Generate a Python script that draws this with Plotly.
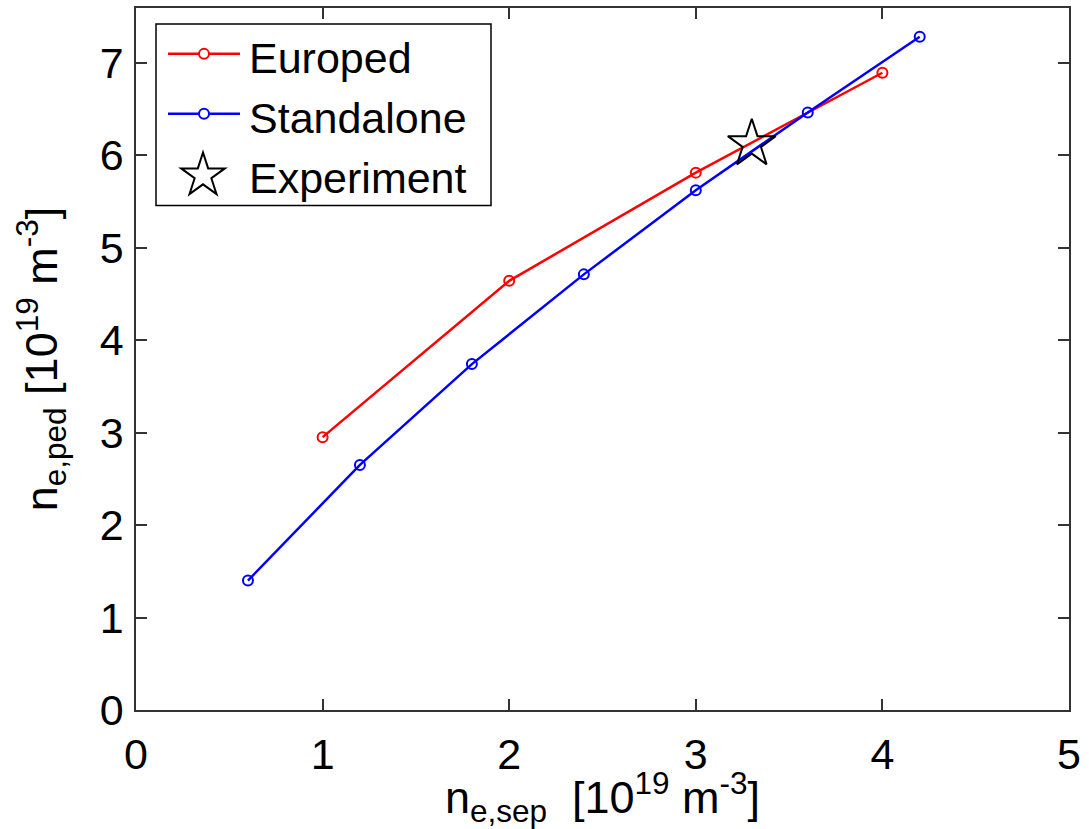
import math
import plotly.graph_objects as go

europed_x = [1, 2, 3, 4]
europed_y = [2.95, 4.64, 5.81, 6.89]
standalone_x = [0.6, 1.2, 1.8, 2.4, 3.0, 3.6, 4.2]
standalone_y = [1.40, 2.65, 3.74, 4.71, 5.62, 6.46, 7.28]
experiment_x = [3.3]
experiment_y = [6.12]
legend_labels = ["Europed", "Standalone", "Experiment"]

FONT = "Liberation Sans, Arial, Helvetica, sans-serif"
FS = 43
RED = "#ff0000"
BLUE = "#0000ff"

W, H = 1089, 829
ML, MR, MT, MB = 136, 20, 6, 119
PW, PH = W - ML - MR, H - MT - MB


def px(xpix):
    return (xpix - ML) / PW


def py(ypix):
    return 1 - (ypix - MT) / PH


fig = go.Figure()
fig.add_trace(go.Scatter(x=europed_x, y=europed_y, mode="lines+markers", name=legend_labels[0],
                         line=dict(color=RED, width=2.5),
                         marker=dict(symbol="circle-open", size=10, color=RED, line=dict(width=2))))
fig.add_trace(go.Scatter(x=standalone_x, y=standalone_y, mode="lines+markers", name=legend_labels[1],
                         line=dict(color=BLUE, width=2.5),
                         marker=dict(symbol="circle-open", size=10, color=BLUE, line=dict(width=2))))
fig.add_trace(go.Scatter(x=experiment_x, y=experiment_y, mode="markers", name=legend_labels[2],
                         marker=dict(symbol="star-open", size=36, color="#000000", line=dict(width=2))))

axis_common = dict(showgrid=False, zeroline=False, showline=True, linecolor="#333333", linewidth=1.5,
                   mirror="ticks", ticks="inside", ticklen=11, tickwidth=1.5, tickcolor="#333333",
                   tickfont=dict(family=FONT, size=FS, color="#000000"))

# ---- custom legend (decoration, placed in paper/pixel coordinates) ----
shapes = []
annotations = []
shapes.append(dict(type="rect", xref="paper", yref="paper",
                   x0=px(156), x1=px(491), y0=py(22), y1=py(204),
                   line=dict(color="#000000", width=1.5), fillcolor="white", layer="above"))
row_y = [52, 112, 172]
for i, (lab, col) in enumerate(zip(legend_labels, [RED, BLUE, None])):
    yy = py(row_y[i])
    if col is not None:
        shapes.append(dict(type="line", xref="paper", yref="paper",
                           x0=px(168), x1=px(240), y0=yy, y1=yy,
                           line=dict(color=col, width=2.5), layer="above"))
        shapes.append(dict(type="circle", xref="paper", yref="paper",
                           xsizemode="pixel", ysizemode="pixel",
                           xanchor=px(204), yanchor=yy, x0=-5, x1=5, y0=-5, y1=5,
                           line=dict(color=col, width=2), fillcolor="white", layer="above"))
    else:
        R, r = 23, 23 * 0.382
        pts = []
        for k in range(10):
            ang = math.pi / 2 + k * math.pi / 5
            rad = R if k % 2 == 0 else r
            pts.append((rad * math.cos(ang), rad * math.sin(ang) - 2))
        path = "M " + " L ".join(f"{a:.2f},{b:.2f}" for a, b in pts) + " Z"
        shapes.append(dict(type="path", xref="paper", yref="paper",
                           xsizemode="pixel", ysizemode="pixel",
                           xanchor=px(203), yanchor=yy, path=path,
                           line=dict(color="#000000", width=2), layer="above"))
    annotations.append(dict(text=lab, xref="paper", yref="paper", x=px(247), y=py(row_y[i] + 4),
                            xanchor="left", yanchor="middle", showarrow=False,
                            font=dict(family=FONT, size=FS, color="#000000")))

fig.update_layout(
    width=W, height=H,
    margin=dict(l=ML, r=MR, t=MT, b=MB),
    paper_bgcolor="white", plot_bgcolor="white",
    font=dict(family=FONT, size=FS, color="#000000"),
    xaxis=dict(range=[0, 5], dtick=1, ticklabelstandoff=6,
               title=dict(text="n<sub>e,sep</sub>  [10<sup>19</sup> m<sup>-3</sup>]",
                          font=dict(family=FONT, size=45), standoff=4),
               **axis_common),
    yaxis=dict(range=[0, 7.59], dtick=1, ticklabelstandoff=2,
               title=dict(text="n<sub>e,ped</sub> [10<sup>19</sup> m<sup>-3</sup>]",
                          font=dict(family=FONT, size=45), standoff=28),
               **axis_common),
    shapes=shapes,
    annotations=annotations,
    showlegend=False,
)

fig.write_html("out.html")
